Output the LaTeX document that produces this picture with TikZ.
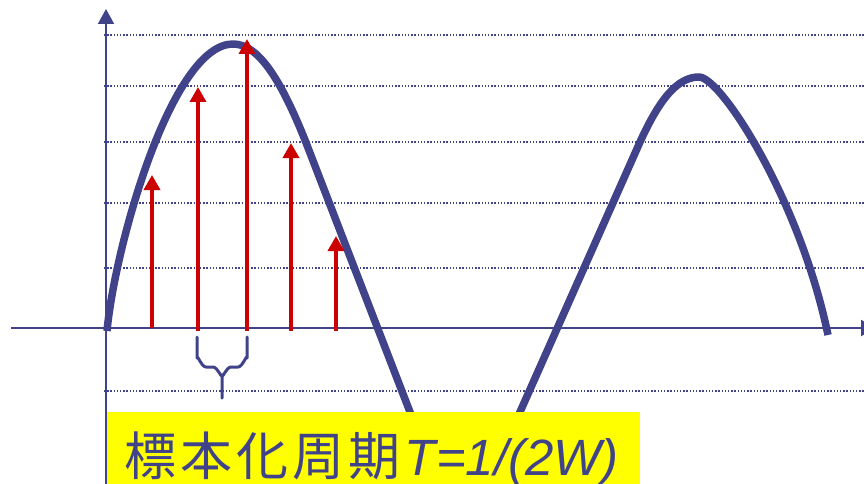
\documentclass[tikz,border=0pt]{standalone}
\usepackage{fontspec}
\newfontfamily\cjk[LetterSpace=8]{Noto Sans CJK JP}
\newfontfamily\latf{Liberation Sans}
\usetikzlibrary{arrows.meta}
\definecolor{wave}{RGB}{64,67,138}
\definecolor{samp}{RGB}{204,0,0}
\definecolor{hilite}{RGB}{255,255,0}
\tikzset{
  gridline/.style={wave, line width=1.8pt, dash pattern=on 1.4pt off 1.8pt},
  wavecurve/.style={wave, line width=7.5pt, line join=round},
  axisline/.style={wave, line width=2pt, -{Triangle[width=16pt,length=15pt]}},
  sample/.style={samp, line width=3.5pt, -{Triangle[width=16pt,length=15pt]}},
  bracestyle/.style={wave, line width=3pt, line cap=round, line join=round},
}
\begin{document}
\begin{tikzpicture}[x=1pt,y=-1pt]
\clip (0,0) rectangle (864,484);
\fill[white] (0,0) rectangle (864,484);
% grid lines
\foreach \yy in {35,86,142,203,268,391}
  \draw[gridline] (104,\yy) -- (864,\yy);
% wave
\draw[wavecurve] (107,331) .. controls (115,245) and (172,44) .. (233,44)
  .. controls (258,44) and (280,78) .. (305,140) -- (415,425);
\draw[wavecurve] (512,430) -- (640,142)
  .. controls (660,98) and (678,77) .. (699,77)
  .. controls (721,77) and (800,200) .. (828,335);
% yellow label box
\fill[hilite] (106,412) rectangle (640,484);
\node[anchor=base west, inner sep=0pt, text=wave] (label) at (124,475)
  {\fontsize{52}{60}\selectfont\cjk 標本化周期\latf\fontsize{51}{60}\selectfont\hspace{4pt}\itshape T=1/(2W)};
% axes
\coordinate (xs) at (11,328);
\coordinate (xe) at (876,328);
\coordinate (ys) at (106,484);
\coordinate (ye) at (106,9);
\draw[axisline] (xs) -- (xe);
\draw[axisline] (ys) -- (ye);
% samples
\foreach \xx/\yb/\yt in {152/328/175, 198/331/87, 247/331/39, 291/331/143, 336/331/236}
  \draw[sample] (\xx,\yb) -- (\xx,\yt);
% brace
\draw[bracestyle] (197,337) -- (197,358) to[out=90,in=180] (206,367) -- (213,367) to[out=0,in=-90] (222,375) -- (222,398);
\draw[bracestyle] (222,375) to[out=-90,in=180] (231,367) -- (238,367) to[out=0,in=90] (247,358) -- (247,337);
\end{tikzpicture}
\end{document}
